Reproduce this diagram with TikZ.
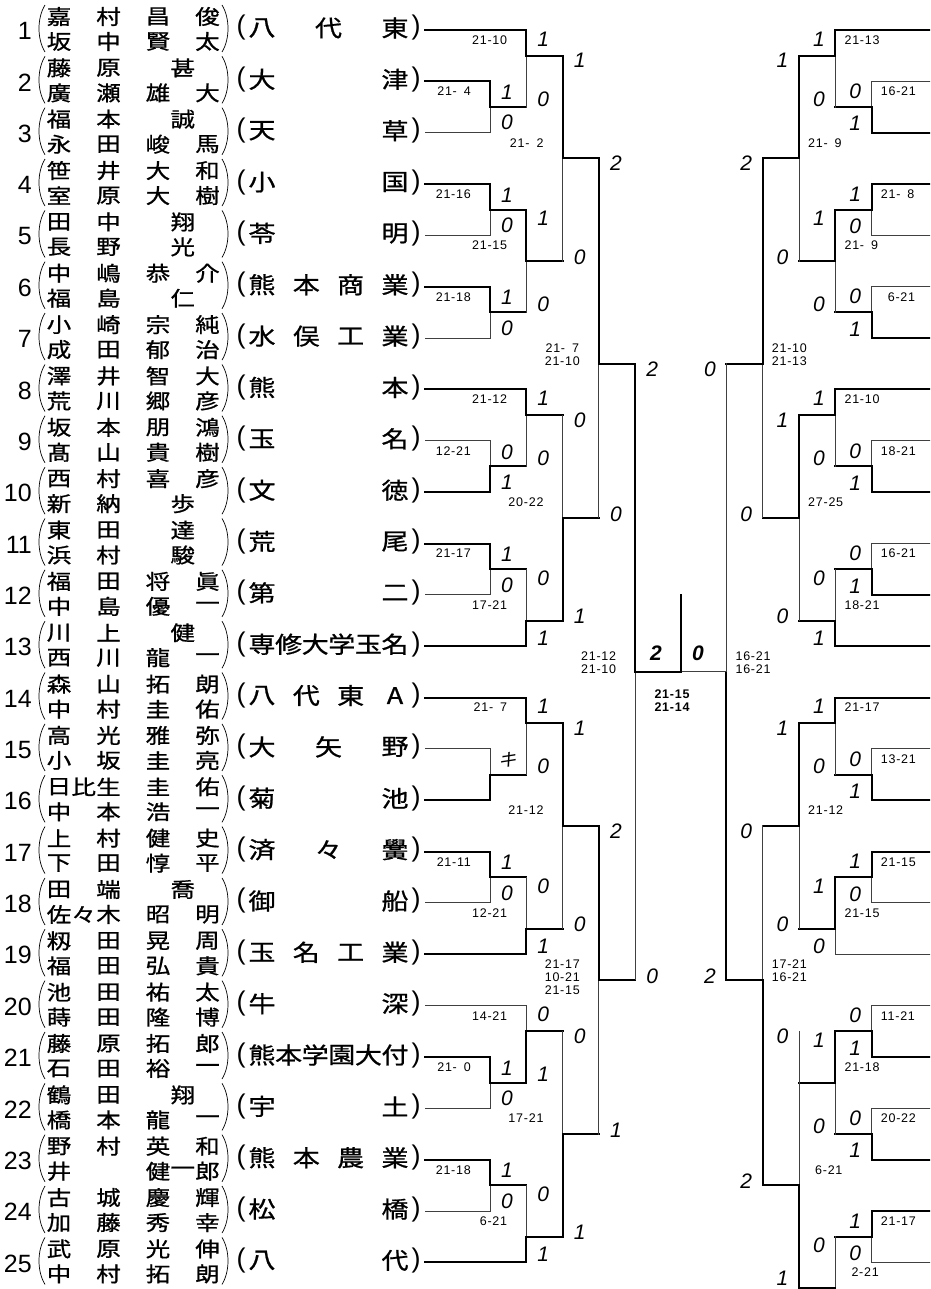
\documentclass[tikz,border=0pt]{standalone}
\usepackage{fontspec}
\setmainfont{Liberation Sans}
\newfontfamily\jpfont[FakeBold=0.8]{Noto Sans CJK JP}
\newfontfamily\jpslant[FakeSlant=0.25]{Noto Sans CJK JP}
\newfontfamily\gamefont[LetterSpace=6]{Liberation Sans}
\usetikzlibrary{calc}
\newcommand{\figsp}{\phantom{0}}
\pgfmathdeclarefunction{ey}{1}{\pgfmathparse{30+(#1-1)*51.35}}
\tikzset{
    entrynum/.style={anchor=east, inner sep=0pt, font=\fontsize{25}{25}\selectfont},
    namechar/.style={inner sep=0pt, yscale=.84, font=\jpfont\fontsize{24.5}{24.5}\selectfont},
    schoolchar/.style={inner sep=0pt, yscale=.85, font=\jpfont\fontsize{27}{27}\selectfont},
    schoolparen/.style={inner sep=0pt, font=\fontsize{27}{27}\selectfont},
    namebrace/.style={line width=.7pt},
    won/.style={line width=2pt, line cap=rect},
    lost/.style={line width=1pt, line cap=rect, black!75},
    setscore/.style={inner sep=0pt, font=\itshape\fontsize{21}{21}\selectfont},
    gamescore/.style={inner sep=0pt, align=center, font=\gamefont\fontsize{12.5}{13}\selectfont},
    finalscore/.style={setscore, font=\bfseries\itshape\fontsize{21}{21}\selectfont},
    finalgame/.style={gamescore, font=\gamefont\bfseries\fontsize{12.5}{13}\selectfont}
}

\begin{document}
\begin{tikzpicture}[x=1pt,y=-1pt]
    \useasboundingbox (0,0) rectangle (930,1289);
    \clip (0,0) rectangle (930,1289);

    % players: number / first round level / line / names / school
    \foreach \n/\ev/\es/\ra/\rb/\sn/\sc in {
        1/2/won/{1/嘉,2/村,3/昌,4/俊}/{1/坂,2/中,3/賢,4/太}/3/{八,代,東},
        2/1/won/{1/藤,2/原,3.5/甚}/{1/廣,2/瀬,3/雄,4/大}/2/{大,津},
        3/1/lost/{1/福,2/本,3.5/誠}/{1/永,2/田,3/峻,4/馬}/2/{天,草},
        4/1/won/{1/笹,2/井,3/大,4/和}/{1/室,2/原,3/大,4/樹}/2/{小,国},
        5/1/lost/{1/田,2/中,3.5/翔}/{1/長,2/野,3.5/光}/2/{苓,明},
        6/1/won/{1/中,2/嶋,3/恭,4/介}/{1/福,2/島,3.5/仁}/4/{熊,本,商,業},
        7/1/lost/{1/小,2/崎,3/宗,4/純}/{1/成,2/田,3/郁,4/治}/4/{水,俣,工,業},
        8/2/won/{1/澤,2/井,3/智,4/大}/{1/荒,2/川,3/郷,4/彦}/2/{熊,本},
        9/1/lost/{1/坂,2/本,3/朋,4/鴻}/{1/髙,2/山,3/貴,4/樹}/2/{玉,名},
        10/1/won/{1/西,2/村,3/喜,4/彦}/{1/新,2/納,3.5/歩}/2/{文,徳},
        11/1/won/{1/東,2/田,3.5/達}/{1/浜,2/村,3.5/駿}/2/{荒,尾},
        12/1/lost/{1/福,2/田,3/将,4/眞}/{1/中,2/島,3/優,4/一}/2/{第,二},
        13/2/won/{1/川,2/上,3.5/健}/{1/西,2/川,3/龍,4/一}/6/{専,修,大,学,玉,名},
        14/2/won/{1/森,2/山,3/拓,4/朗}/{1/中,2/村,3/圭,4/佑}/4/{八,代,東,A},
        15/1/lost/{1/高,2/光,3/雅,4/弥}/{1/小,2/坂,3/圭,4/亮}/3/{大,矢,野},
        16/1/won/{1/日,1.5/比,2/生,3/圭,4/佑}/{1/中,2/本,3/浩,4/一}/2/{菊,池},
        17/1/won/{1/上,2/村,3/健,4/史}/{1/下,2/田,3/惇,4/平}/3/{済,々,黌},
        18/1/lost/{1/田,2/端,3.5/喬}/{1/佐,1.5/々,2/木,3/昭,4/明}/2/{御,船},
        19/2/won/{1/籾,2/田,3/晃,4/周}/{1/福,2/田,3/弘,4/貴}/4/{玉,名,工,業},
        20/2/lost/{1/池,2/田,3/祐,4/太}/{1/蒔,2/田,3/隆,4/博}/2/{牛,深},
        21/1/won/{1/藤,2/原,3/拓,4/郎}/{1/石,2/田,3/裕,4/一}/6/{熊,本,学,園,大,付},
        22/1/lost/{1/鶴,2/田,3.5/翔}/{1/橋,2/本,3/龍,4/一}/2/{宇,土},
        23/1/won/{1/野,2/村,3/英,4/和}/{1/井,3/健,3.5/一,4/郎}/4/{熊,本,農,業},
        24/1/lost/{1/古,2/城,3/慶,4/輝}/{1/加,2/藤,3/秀,4/幸}/2/{松,橋},
        25/2/won/{1/武,2/原,3/光,4/伸}/{1/中,2/村,3/拓,4/朗}/2/{八,代}}{
        \pgfmathsetmacro\y{ey(\n)}
        \node[entrynum] (num\n) at (32,\y+1) {\n};
        \foreach \s/\c [count=\j] in \ra
            \node[namechar] (na\n-\j) at ({59+(\s-1)*49.5},\y-13.5) {\c};
        \foreach \s/\c [count=\j] in \rb
            \node[namechar] (nb\n-\j) at ({59+(\s-1)*49.5},\y+11.5) {\c};
        \draw[namebrace] (45,\y-25) .. controls (37,\y-12) and (37,\y+9) .. (45,\y+22);
        \draw[namebrace] (222,\y-25) .. controls (230,\y-12) and (230,\y+9) .. (222,\y+22);
        \node[schoolparen] (so\n) at (241,\y-2) {(};
        \foreach \c [count=\i] in \sc
            \node[schoolchar] (sc\n-\i) at ({262+(\i-1)*133/(\sn-1)},\y-2) {\c};
        \node[schoolparen] (sz\n) at (416,\y-2) {)};
        \coordinate (e\n) at (425,\y);
        \draw[\es] (e\n) -- ({490+(\ev-1)*36.33},\y);
    }

    % left bracket
    \foreach \lv/\kt/\kb/\ko/\ta/\ba/\st/\sb/\gs [count=\m] in {
        1/2/3/2.5/won/lost/1/0/{21-\figsp4},
        2/1/2.5/1.5/won/lost/1/0/{21-10},
        1/4/5/4.5/won/lost/1/0/{21-16},
        1/6/7/6.5/won/lost/1/0/{21-18},
        2/4.5/6.5/5.5/won/lost/1/0/{21-15},
        3/1.5/5.5/3.5/won/lost/1/0/{21-\figsp2},
        1/9/10/9.5/lost/won/0/1/{12-21},
        2/8/9.5/8.5/won/lost/1/0/{21-12},
        1/11/12/11.5/won/lost/1/0/{21-17},
        2/11.5/13/12.5/lost/won/0/1/{17-21},
        3/8.5/12.5/10.5/lost/won/0/1/{20-22},
        4/3.5/10.5/7.5/won/lost/2/0/{21-\figsp7\\21-10},
        1/15/16/15.5/lost/won/{\jpslant\fontsize{18}{18}\selectfont キ}/{}/{},
        2/14/15.5/14.5/won/lost/1/0/{21-\figsp7},
        1/17/18/17.5/won/lost/1/0/{21-11},
        2/17.5/19/18.5/lost/won/0/1/{12-21},
        3/14.5/18.5/16.5/won/lost/1/0/{21-12},
        1/21/22/21.5/won/lost/1/0/{21-\figsp0},
        2/20/21.5/20.5/lost/won/0/1/{14-21},
        1/23/24/23.5/won/lost/1/0/{21-18},
        2/23.5/25/24.5/lost/won/0/1/{\figsp6-21},
        3/20.5/24.5/22.5/lost/won/0/1/{17-21},
        4/16.5/22.5/19.5/won/lost/2/1/{21-17\\10-21\\21-15},
        5/7.5/19.5/13.5/won/lost/2/0/{21-12\\21-10}}{
        \pgfmathsetmacro\mx{490+(\lv-1)*36.33}
        \pgfmathsetmacro\yt{ey(\kt)}
        \pgfmathsetmacro\yb{ey(\kb)}
        \pgfmathsetmacro\yo{ey(\ko)}
        \pgfmathsetmacro\dd{{11,9,5,5,5}[\lv-1]}
        \pgfmathsetmacro\yg{ey(floor(\ko))+5.5}
        \coordinate (lt\m) at (\mx,\yt);
        \coordinate (lo\m) at (\mx,\yo);
        \coordinate (lb\m) at (\mx,\yb);
        \draw[\ta] (lt\m) -- (lo\m);
        \draw[\ba] (lo\m) -- (lb\m);
        \ifnum\lv<5 \draw[won] (lo\m) -- ++(36.33,0); \fi
        \node[setscore] (lst\m) at (\mx+17,\yt+\dd) {\st};
        \node[setscore] (lsb\m) at (\mx+17,\yb-\dd+1) {\sb};
        \node[gamescore, anchor=north east] (lg\m) at (\mx-19,\yg) {\gs};
    }

    % right bracket, entry lines
    \foreach \k/\ev/\es in {1/2/won, 2/1/lost, 3/1/won, 4/1/won, 5/1/lost,
        6/1/lost, 7/1/won, 8/2/won, 9/1/lost, 10/1/won, 11/1/lost, 12/1/won,
        13/2/won, 14/2/won, 15/1/lost, 16/1/won, 17/1/won, 18/1/lost,
        19/2/lost, 20/1/lost, 21/1/won, 22/1/lost, 23/1/won, 24/1/won, 25/1/lost}{
        \coordinate (r\k) at (935,{ey(\k)});
        \draw[\es] (r\k) -- ({871.67-(\ev-1)*36.33},{ey(\k)});
    }

    \foreach \lv/\kt/\kb/\ko/\ta/\ba/\st/\sb/\gs [count=\m] in {
        1/2/3/2.5/lost/won/0/1/{16-21},
        2/1/2.5/1.5/won/lost/1/0/{21-13},
        1/4/5/4.5/won/lost/1/0/{21-\figsp8},
        1/6/7/6.5/lost/won/0/1/{\figsp6-21},
        2/4.5/6.5/5.5/won/lost/1/0/{21-\figsp9},
        3/1.5/5.5/3.5/won/lost/1/0/{21-\figsp9},
        1/9/10/9.5/lost/won/0/1/{18-21},
        2/8/9.5/8.5/won/lost/1/0/{21-10},
        1/11/12/11.5/lost/won/0/1/{16-21},
        2/11.5/13/12.5/lost/won/0/1/{18-21},
        3/8.5/12.5/10.5/won/lost/1/0/{27-25},
        4/3.5/10.5/7.5/won/lost/2/0/{21-10\\21-13},
        1/15/16/15.5/lost/won/0/1/{13-21},
        2/14/15.5/14.5/won/lost/1/0/{21-17},
        1/17/18/17.5/won/lost/1/0/{21-15},
        2/17.5/19/18.5/won/lost/1/0/{21-15},
        3/14.5/18.5/16.5/won/lost/1/0/{21-12},
        1/20/21/20.5/lost/won/0/1/{11-21},
        1/22/23/22.5/lost/won/0/1/{20-22},
        2/20.5/22.5/21.5/won/lost/1/0/{21-18},
        1/24/25/24.5/won/lost/1/0/{21-17},
        2/24.5/27/25.5/lost/won/0/{}/{\figsp2-21},
        3/20.5/25.5/23.5/lost/won/0/1/{\figsp6-21},
        4/16.5/23.5/19.5/lost/won/0/2/{17-21\\16-21},
        5/7.5/19.5/13.5/lost/won/0/2/{16-21\\16-21}}{
        \pgfmathsetmacro\mx{871.67-(\lv-1)*36.33}
        \pgfmathsetmacro\yt{ey(\kt)}
        \pgfmathsetmacro\yb{ey(\kb)}
        \pgfmathsetmacro\yo{ey(\ko)}
        \pgfmathsetmacro\dd{{10,9,5,5,5}[\lv-1]}
        \pgfmathsetmacro\yg{ey(floor(\ko))+5.5}
        \pgfmathsetmacro\ys{min(\yb-\dd+1,1278)}
        \coordinate (rt\m) at (\mx,\yt);
        \coordinate (ro\m) at (\mx,\yo);
        \coordinate (rb\m) at (\mx,\yb);
        \draw[\ta] (rt\m) -- (ro\m);
        \draw[\ba] (ro\m) -- (rb\m);
        \ifnum\lv<5 \draw[won] (ro\m) -- ++(-36.33,0); \fi
        \node[setscore] (rst\m) at (\mx-16.5,\yt+\dd) {\st};
        \node[setscore] (rsb\m) at (\mx-16.5,\ys) {\sb};
        \node[gamescore, anchor=north west] (rg\m) at (\mx+9,\yg) {\gs};
    }

    % final
    \coordinate (fl) at (635.33,{ey(13.5)});
    \coordinate (fm) at (680.83,{ey(13.5)});
    \coordinate (fr) at (726.33,{ey(13.5)});
    \coordinate (ftop) at (680.83,595);
    \draw[lost] (fm) -- (fr);
    \draw[won] (fl) -- (fm) -- (ftop);
    \node[finalscore] (fsl) at (656,653) {2};
    \node[finalscore] (fsr) at (698,653) {0};
    \node[finalgame] (fg) at (672,701) {21-15\\21-14};
\end{tikzpicture}
\end{document}
